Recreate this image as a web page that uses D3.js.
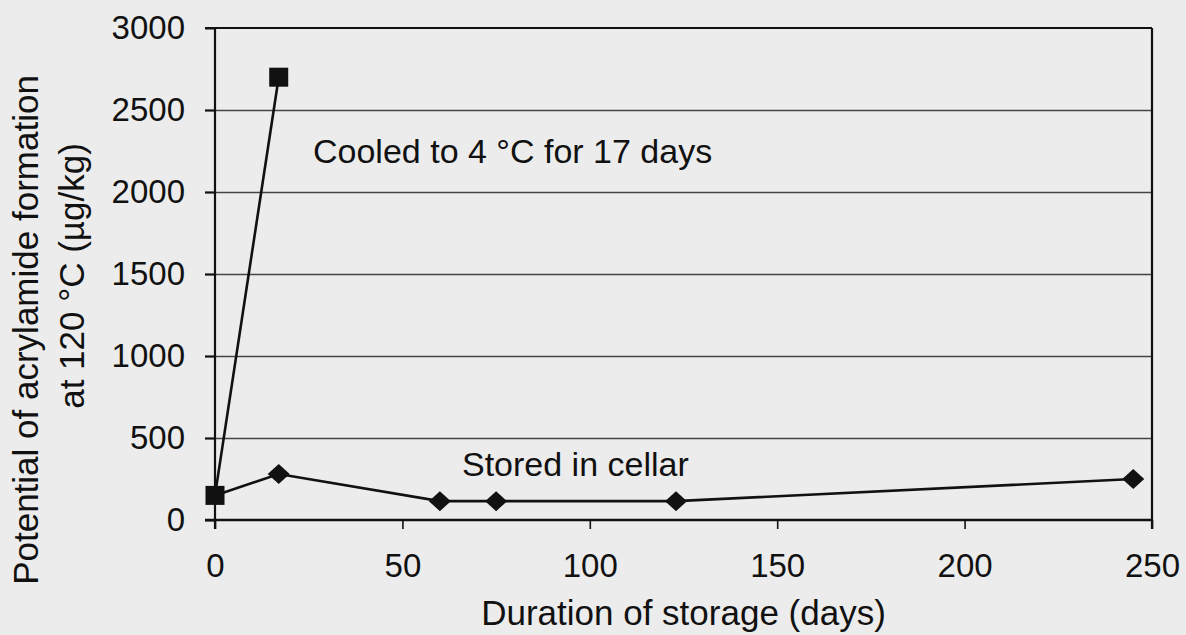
<!DOCTYPE html>
<html>
<head>
<meta charset="utf-8">
<script src="https://cdn.jsdelivr.net/npm/d3@7"></script>
<style>
  html, body { margin: 0; padding: 0; background: #ececec; }
  svg { display: block; font-family: "Liberation Sans", Arial, Helvetica, sans-serif; }
</style>
</head>
<body>
<script>
var width = 1186,
    height = 635;

// data
var cooledDays = [0, 17];
var cooledValues = [150, 2700];
var cellarDays = [0, 17, 60, 75, 123, 245];
var cellarValues = [150, 280, 115, 115, 115, 250];
var xTicks = [0, 50, 100, 150, 200, 250];
var yTicks = [0, 500, 1000, 1500, 2000, 2500, 3000];

var plotLeft = 215, plotRight = 1152, plotTop = 28, plotBottom = 520;

var x = d3.scaleLinear().domain([0, 250]).range([plotLeft, plotRight]);
var y = d3.scaleLinear().domain([0, 3000]).range([plotBottom, plotTop]);

var svg = d3.select('body').append('svg')
  .attr('width', width)
  .attr('height', height);

// gridlines (gray), with short ticks sticking out left of the axis
svg.append('g')
  .attr('transform', 'translate(' + plotLeft + ',0)')
  .call(d3.axisLeft(y).tickValues(yTicks.filter(function(d) { return d > 0 && d < 3000; }))
    .tickSize(-(plotRight - plotLeft)).tickFormat(''))
  .call(function(g) { g.select('.domain').remove(); })
  .call(function(g) { g.selectAll('line').attr('x1', -10).attr('stroke', '#444').attr('stroke-width', 1.6); });

// tick labels y
svg.append('g')
  .attr('transform', 'translate(' + plotLeft + ',0)')
  .call(d3.axisLeft(y).tickValues(yTicks).tickSize(10).tickPadding(20).tickFormat(d3.format('d')))
  .call(function(g) {
    g.select('.domain').remove();
    g.selectAll('line').attr('stroke', '#111').attr('stroke-width', 2);
    g.selectAll('text').attr('font-size', '33px').attr('fill', '#111');
  });

// x axis ticks and labels
svg.append('g')
  .attr('transform', 'translate(0,' + plotBottom + ')')
  .call(d3.axisBottom(x).tickValues(xTicks).tickSize(9).tickPadding(25).tickFormat(d3.format('d')))
  .call(function(g) {
    g.select('.domain').remove();
    g.selectAll('line').attr('stroke', '#111').attr('stroke-width', 1.6);
    g.selectAll('text').attr('font-size', '33px').attr('fill', '#111');
  });

// frame: axis lines, top and right borders
var frame = svg.append('g').attr('stroke', '#111').attr('fill', 'none');
frame.append('line').attr('x1', x(0) - 10).attr('x2', x(250)).attr('y1', y(0)).attr('y2', y(0)).attr('stroke-width', 2.6);
frame.append('line').attr('x1', x(0) - 10).attr('x2', x(250)).attr('y1', y(3000)).attr('y2', y(3000)).attr('stroke-width', 2.2);
frame.append('line').attr('x1', x(0)).attr('x2', x(0)).attr('y1', y(3000)).attr('y2', y(0) + 9).attr('stroke-width', 2.2);
frame.append('line').attr('x1', x(250)).attr('x2', x(250)).attr('y1', y(3000)).attr('y2', y(0) + 9).attr('stroke-width', 2.2);

var line = d3.line()
  .x(function(d) { return x(d[0]); })
  .y(function(d) { return y(d[1]); });

var cooled = d3.zip(cooledDays, cooledValues);
var cellar = d3.zip(cellarDays, cellarValues);

svg.append('path').datum(cellar).attr('d', line)
  .attr('fill', 'none').attr('stroke', '#111').attr('stroke-width', 2.6);
svg.append('path').datum(cooled).attr('d', line)
  .attr('fill', 'none').attr('stroke', '#111').attr('stroke-width', 2.6);

// diamonds for cellar (skip day 0, drawn as square)
svg.selectAll('path.diamond')
  .data(cellar.slice(1))
  .enter()
  .append('path')
  .attr('class', 'diamond')
  .attr('d', function(d) {
    var cx = x(d[0]), cy = y(d[1]);
    return 'M' + (cx - 11) + ',' + cy + 'L' + cx + ',' + (cy - 10) + 'L' + (cx + 11) + ',' + cy + 'L' + cx + ',' + (cy + 10) + 'Z';
  })
  .attr('fill', '#111');

// squares for cooled
svg.selectAll('rect.sq')
  .data(cooled)
  .enter()
  .append('rect')
  .attr('class', 'sq')
  .attr('x', function(d) { return x(d[0]) - 9.5; })
  .attr('y', function(d) { return y(d[1]) - 9.5; })
  .attr('width', 19)
  .attr('height', 19)
  .attr('fill', '#111');

// series labels
svg.append('text')
  .attr('x', 313).attr('y', 163)
  .attr('font-size', '34px').attr('fill', '#111')
  .text('Cooled to 4 °C for 17 days');
svg.append('text')
  .attr('x', 462).attr('y', 476)
  .attr('font-size', '34px').attr('fill', '#111')
  .text('Stored in cellar');

// axis titles
svg.append('text')
  .attr('x', x(125)).attr('y', 625)
  .attr('text-anchor', 'middle')
  .attr('font-size', '35px').attr('fill', '#111')
  .text('Duration of storage (days)');

svg.append('text')
  .attr('transform', 'translate(38,330) rotate(-90)')
  .attr('text-anchor', 'middle')
  .attr('font-size', '35px').attr('fill', '#111')
  .text('Potential of acrylamide formation');
svg.append('text')
  .attr('transform', 'translate(84,276) rotate(-90)')
  .attr('text-anchor', 'middle')
  .attr('font-size', '35px').attr('fill', '#111')
  .text('at 120 °C (µg/kg)');
</script>
</body>
</html>
